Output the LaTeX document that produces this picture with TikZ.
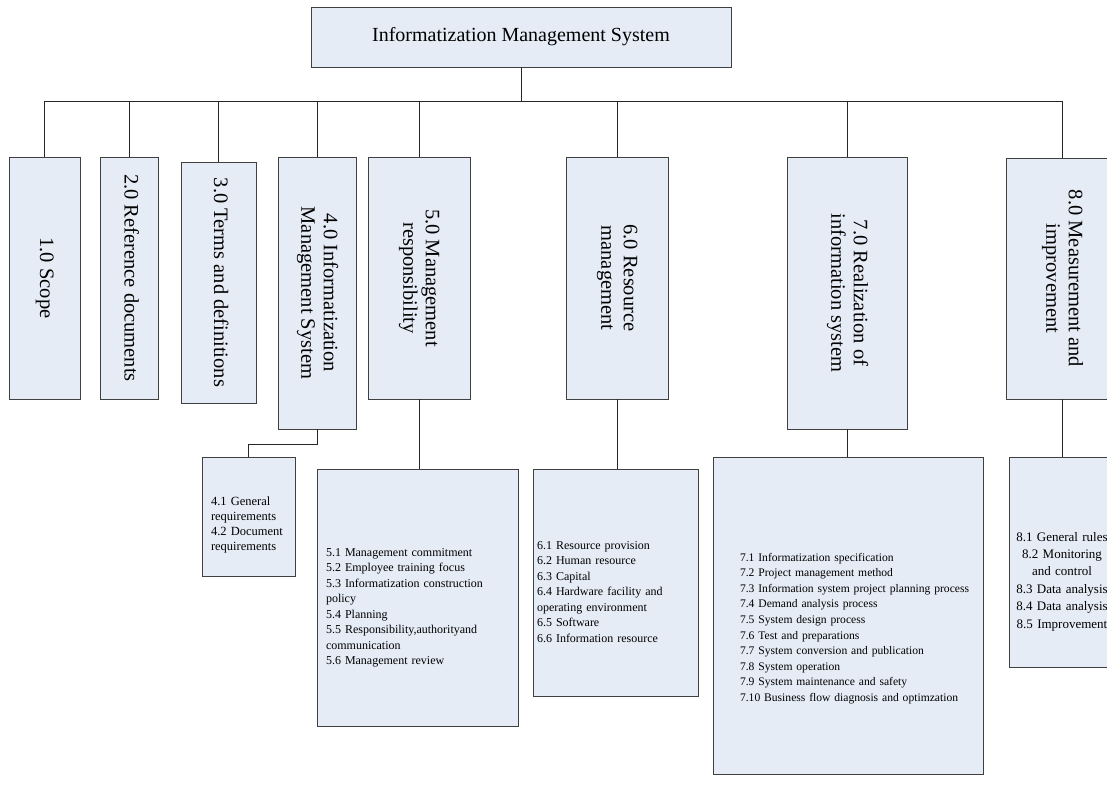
\documentclass[tikz,border=0pt]{standalone}
\usepackage{fontspec}
\setmainfont{Liberation Serif}
\usepackage{xcolor}
\usepackage{graphicx}
\usepackage{tikz}

\definecolor{boxfill}{RGB}{230,236,246}
\newcommand{\vtext}[1]{\rotatebox{-90}{\begin{tabular}{@{}c@{}}#1\end{tabular}}}

\begin{document}
\begin{tikzpicture}[x=1pt,y=-1pt,
		box/.style={draw=black!75, fill=boxfill, line width=0.8pt, inner sep=0pt},
		head/.style={box, font=\fontsize{20.5}{22.5}\selectfont},
		list/.style={box, align=left, font=\fontsize{12}{15.5}\selectfont},
		link/.style={draw=black!85, line width=0.8pt}]
		\useasboundingbox (0,0) rectangle (1107,784);

		% Kopf
		\node[box, font=\fontsize{20}{24}\selectfont, minimum width=420pt, minimum height=60pt] (system) at (521,37) {Informatization Management System};
		\coordinate (bus) at (521,101);

		% Hauptpunkte
		\node[head, minimum width=71pt, minimum height=242pt] (scope) at (44.5,278) {\vtext{1.0 Scope}};
		\node[head, minimum width=58pt, minimum height=242pt] (refs) at (129,278) {\vtext{2.0 Reference documents}};
		\node[head, minimum width=75pt, minimum height=241pt] (terms) at (218.5,282.5) {\vtext{3.0 Terms and definitions}};
		\node[head, minimum width=78pt, minimum height=272pt] (ims) at (317,293) {\vtext{4.0 Informatization\\Management System}};
		\node[head, minimum width=102pt, minimum height=242pt] (resp) at (419,278) {\vtext{5.0 Management\\responsibility}};
		\node[head, minimum width=102pt, minimum height=242pt] (res) at (617,278) {\vtext{6.0 Resource\\management}};
		\node[head, minimum width=120pt, minimum height=272pt] (real) at (847,293) {\vtext{7.0 Realization of\\information system}};
		\node[head, minimum width=112pt, minimum height=241pt] (meas) at (1062,278.5) {\vtext{8.0 Measurement and\\improvement}};

		% Unterpunkte
		\node[list, font=\fontsize{12.5}{15}\selectfont, minimum width=93pt, minimum height=119pt, inner xsep=9pt, text width=75pt] (imslist) at (248.5,516.5)
			{\rule{0pt}{25pt}4.1 General\\requirements\\4.2 Document\\requirements};
		\node[list, minimum width=201pt, minimum height=257pt, inner xsep=9pt, text width=183pt] (resplist) at (417.5,597.5)
			{\rule{0pt}{29pt}5.1 Management commitment\\5.2 Employee training focus\\5.3 Informatization construction\\policy\\5.4 Planning\\5.5 Responsibility,authorityand\\communication\\5.6 Management review};
		\node[list, minimum width=165pt, minimum height=227pt, inner xsep=4pt, text width=157pt] (reslist) at (615.5,582.5)
			{\rule{0pt}{27pt}6.1 Resource provision\\6.2 Human resource\\6.3 Capital\\6.4 Hardware facility and\\operating environment\\6.5 Software\\6.6 Information resource};
		\node[list, font=\fontsize{11.6}{15.6}\selectfont, minimum width=270pt, minimum height=317pt, inner xsep=27pt, text width=216pt] (reallist) at (848,615.5)
			{\rule{0pt}{34pt}7.1 Informatization specification\\7.2 Project management method\\\mbox{7.3 Information system project planning process}\\7.4 Demand analysis process\\7.5 System design process\\7.6 Test and preparations\\7.7 System conversion and publication\\7.8 System operation\\7.9 System maintenance and safety\\\mbox{7.10 Business flow diagnosis and optimzation}};
		\node[list, align=center, font=\fontsize{13}{17.4}\selectfont, minimum width=106pt, minimum height=210pt, inner xsep=1pt, text width=104pt] (measlist) at (1062,562)
			{\rule{0pt}{48pt}8.1 General rules\\8.2 Monitoring\\and control\\8.3 Data analysis\\8.4 Data analysis\\8.5 Improvement};

		% Linien
		\draw[link] (system.south) -- (bus);
		\draw[link] (bus -| scope.north) -- (bus -| meas.north);
		\draw[link] (scope.north) -- (scope.north |- bus);
		\draw[link] (refs.north) -- (refs.north |- bus);
		\draw[link] (terms.north) -- (terms.north |- bus);
		\draw[link] (ims.north) -- (ims.north |- bus);
		\draw[link] (resp.north) -- (resp.north |- bus);
		\draw[link] (res.north) -- (res.north |- bus);
		\draw[link] (real.north) -- (real.north |- bus);
		\draw[link] (meas.north) -- (meas.north |- bus);

		\draw[link] (ims.south) -- ++(0,15) -| (imslist.north);
		\draw[link] (resp.south) -- (resp.south |- resplist.north);
		\draw[link] (res.south) -- (res.south |- reslist.north);
		\draw[link] (real.south) -- (real.south |- reallist.north);
		\draw[link] (meas.south) -- (meas.south |- measlist.north);
	\end{tikzpicture}
\end{document}
